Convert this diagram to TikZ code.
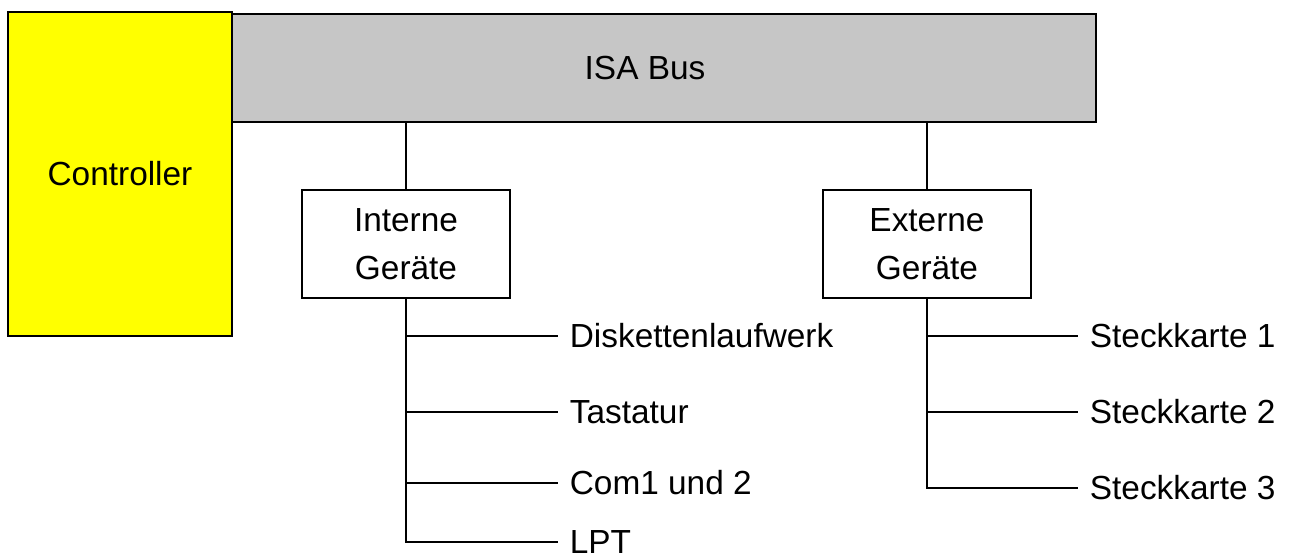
\documentclass[tikz,border=0pt]{standalone}
\usepackage{fontspec}
\setmainfont{Liberation Sans}
\usetikzlibrary{positioning}
\definecolor{busgray}{HTML}{C6C6C6}
\definecolor{ctlyellow}{HTML}{FFFF00}

\begin{document}
\begin{tikzpicture}[x=0.02cm,y=-0.02cm,
  font=\fontsize{19}{27}\selectfont,
  line width=1pt,
  box/.style={draw,fill=white,align=center,inner sep=0pt,
              minimum width=4.16cm,minimum height=2.16cm},
  leaf/.style={anchor=west,inner sep=0.22cm}]
\useasboundingbox (0,0) rectangle (1293,556);
\node[draw,fill=busgray,minimum width=18.04cm,minimum height=2.16cm] (bus) at (645,68) {ISA Bus};
\node[draw,fill=ctlyellow,minimum width=4.48cm,minimum height=6.48cm] (ctl) at (120,174) {Controller};
\node[box] (ig) at (406,244) {Interne\\Geräte};
\node[box] (eg) at (927,244) {Externe\\Geräte};
\node[leaf] (disk) at (558,336) {Diskettenlaufwerk};
\node[leaf] (tast) at (558,412) {Tastatur};
\node[leaf] (com) at (558,483) {Com1 und 2};
\node[leaf] (lpt) at (558,542) {LPT};
\node[leaf] (sk1) at (1078,336) {Steckkarte 1};
\node[leaf] (sk2) at (1078,412) {Steckkarte 2};
\node[leaf] (sk3) at (1078,488) {Steckkarte 3};
\draw (bus.south -| ig.north) -- (ig.north);
\draw (bus.south -| eg.north) -- (eg.north);
\draw (ig.south) |- (disk.west);
\draw (ig.south) |- (tast.west);
\draw (ig.south) |- (com.west);
\draw (ig.south) |- (lpt.west);
\draw (eg.south) |- (sk1.west);
\draw (eg.south) |- (sk2.west);
\draw (eg.south) |- (sk3.west);
\end{tikzpicture}
\end{document}
